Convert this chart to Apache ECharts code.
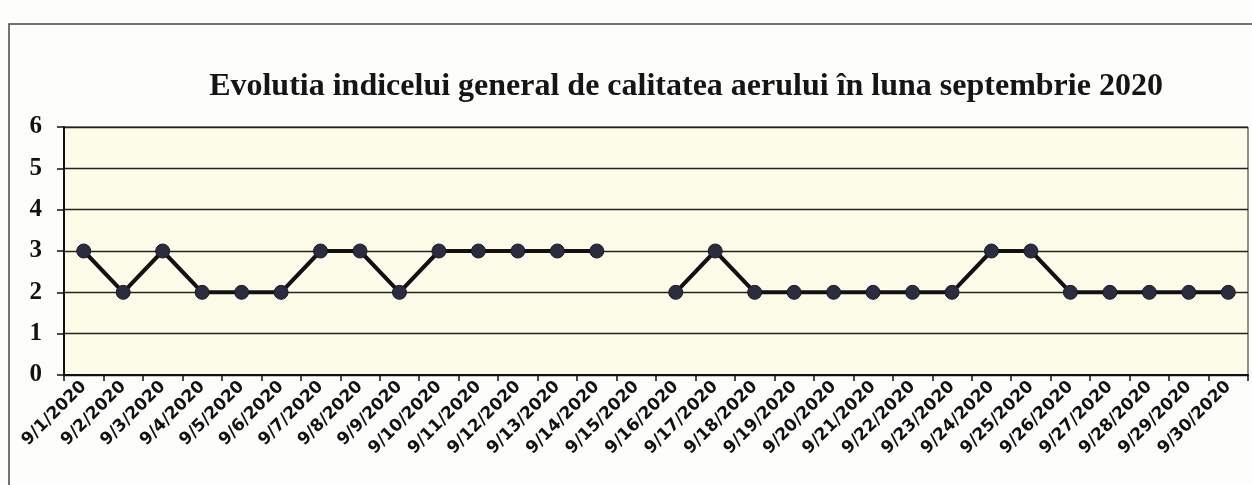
<!DOCTYPE html>
<html>
<head>
<meta charset="utf-8">
<script src="https://cdn.jsdelivr.net/npm/echarts@6/dist/echarts.min.js"></script>
<style>
html,body{margin:0;padding:0;background:#fdfdfb;}
#chart{width:1252px;height:485px;}
</style>
</head>
<body>
<div id="chart"></div>
<script>
// zilele lunii septembrie 2020
var days = ['9/1/2020','9/2/2020','9/3/2020','9/4/2020','9/5/2020','9/6/2020','9/7/2020','9/8/2020','9/9/2020','9/10/2020',
	'9/11/2020','9/12/2020','9/13/2020','9/14/2020','9/15/2020','9/16/2020','9/17/2020','9/18/2020','9/19/2020','9/20/2020',
	'9/21/2020','9/22/2020','9/23/2020','9/24/2020','9/25/2020','9/26/2020','9/27/2020','9/28/2020','9/29/2020','9/30/2020'];

// indicele general (9/15 lipseste)
var indice = [3,2,3,2,2,2,3,3,2,3,
	3,3,3,3,null,2,3,2,2,2,
	2,2,2,3,3,2,2,2,2,2];

var yTicks = [0,1,2,3,4,5,6];

var titlu = 'Evolutia indicelui general de calitatea aerului în luna septembrie 2020';

var chart = echarts.init(document.getElementById('chart'));

var option = {
	backgroundColor:'#fdfdfb',
	animation:false,
	title:{
		text:titlu,
		left:681,
		top:66,
		textAlign:'center',
		textStyle:{fontFamily:'Liberation Serif',fontWeight:'bold',fontSize:32,color:'#151515'}
	},
	graphic:[
		{type:'polyline',shape:{points:[[9,485],[9,24],[1252,24]]},style:{stroke:'#444',lineWidth:1.5,fill:null}}
	],
	grid:{
		left:64,
		right:4,
		top:127,
		bottom:110,
		show:true,
		backgroundColor:'#fdfce8',
		borderColor:'#222',
		borderWidth:1
	},
	xAxis:{
		type:'category',
		data:days,
		boundaryGap:true,
		axisLine:{lineStyle:{color:'#111',width:2}},
		axisTick:{show:true,alignWithLabel:false,length:6,lineStyle:{color:'#111',width:1.5}},
		axisLabel:{
			rotate:45,
			interval:0,
			margin:9,
			fontFamily:'DejaVu Sans',
			fontWeight:'bold',
			fontSize:17,
			color:'#111'
		}
	},
	yAxis:{
		type:'value',
		min:yTicks[0],
		max:yTicks[yTicks.length-1],
		interval:1,
		axisLine:{show:true,lineStyle:{color:'#111',width:2}},
		axisTick:{show:true,length:7,lineStyle:{color:'#111',width:1.5}},
		splitLine:{show:true,lineStyle:{color:'#222',width:1.3}},
		axisLabel:{
			margin:22,
			fontFamily:'Liberation Serif',
			fontWeight:'bold',
			fontSize:25,
			color:'#111'
		}
	},
	series:[{
		type:'line',
		data:indice,
		connectNulls:false,
		symbol:'circle',
		symbolSize:14,
		lineStyle:{color:'#111',width:4},
		itemStyle:{color:'#2c2c40',borderColor:'#1a1a28',borderWidth:1}
	}]
};

chart.setOption(option);
</script>
</body>
</html>
